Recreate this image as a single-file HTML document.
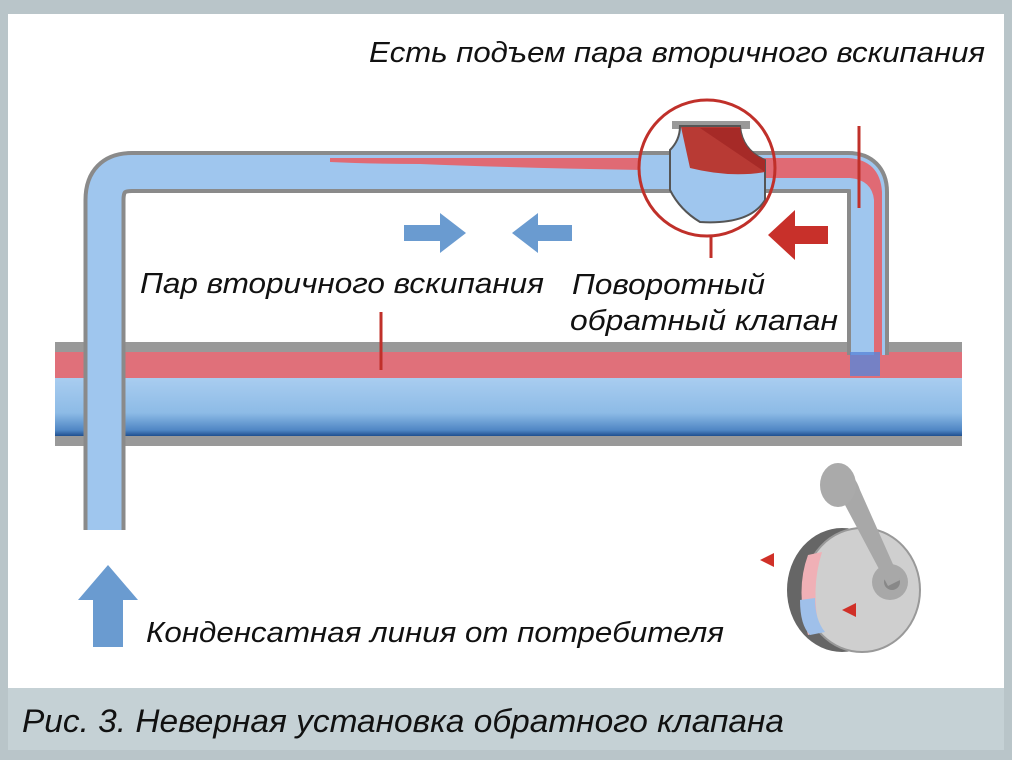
<!DOCTYPE html>
<html><head><meta charset="utf-8"><style>
html,body{margin:0;padding:0;background:#fff}
svg{display:block}
text{font-family:"Liberation Sans",sans-serif;font-style:italic;fill:#111}
</style></head><body>
<svg width="1012" height="760" viewBox="0 0 1012 760" xmlns="http://www.w3.org/2000/svg">
<defs>
<linearGradient id="mp" x1="0" y1="0" x2="0" y2="1">
<stop offset="0" stop-color="#a9cdf0"/><stop offset="0.6" stop-color="#8dbbe6"/><stop offset="0.9" stop-color="#4f86c4"/><stop offset="1" stop-color="#1f4f8f"/>
</linearGradient>
<linearGradient id="vp" x1="0" y1="0" x2="1" y2="0">
<stop offset="0" stop-color="#5f95d0"/><stop offset="0.4" stop-color="#a9cdf0"/><stop offset="1" stop-color="#80b1e2"/>
</linearGradient>
</defs>
<rect x="0" y="0" width="1012" height="760" fill="#b9c5c9"/>
<rect x="8" y="14" width="996" height="674" fill="#fff"/>
<rect x="8" y="688" width="996" height="62" fill="#c5d1d5"/>

<!-- main pipe -->
<rect x="55" y="342" width="907" height="104" fill="#999"/>
<rect x="55" y="352" width="907" height="26" fill="#e0707a"/>
<rect x="55" y="378" width="907" height="58" fill="url(#mp)"/>

<!-- upper loop pipe -->
<path d="M104.5 530 V200 Q104.5 172 132 172 H848 Q868 172 868 192 V355" fill="none" stroke="#8a8a8a" stroke-width="42"/>
<path d="M104.5 530 V200 Q104.5 172 132 172 H848 Q868 172 868 192 V355" fill="none" stroke="#9fc6ee" stroke-width="34"/>
<path d="M104.5 530 V200" fill="none" stroke="url(#vp)" stroke-width="34"/>
<!-- red steam in top pipe -->
<path d="M330 158 H640 V170 Q520 168 420 164 Q370 164 330 162 Z" fill="#e06a74"/>
<path d="M760 158 H848 Q880 160 882 192 V355 H874 V200 Q872 180 850 178 H760 Z" fill="#e06a74"/>
<rect x="850" y="352" width="30" height="24" fill="#5a86d8" opacity="0.8"/>

<!-- valve -->
<rect x="672" y="121" width="78" height="8" fill="#999"/>
<path d="M680 126 H740 Q742 150 765 160 V200 Q750 225 700 222 Q680 210 670 190 V150 Q680 140 680 126Z" fill="#9fc6ee" stroke="#555" stroke-width="2"/>
<path d="M681 127 H740 Q742 150 765 160 V172 Q730 178 690 168 Z" fill="#b83a34"/>
<path d="M700 128 L740 128 Q742 150 765 160 V172 Z" fill="#9a2020" opacity="0.6"/>
<circle cx="707" cy="168" r="68" fill="none" stroke="#c0302a" stroke-width="3"/>
<line x1="711" y1="236" x2="711" y2="258" stroke="#c0302a" stroke-width="3"/>
<line x1="859" y1="126" x2="859" y2="208" stroke="#c0302a" stroke-width="3"/>
<line x1="381" y1="312" x2="381" y2="370" stroke="#c0302a" stroke-width="3"/>

<!-- arrows -->
<path d="M404 225 H440 V213 L466 233 L440 253 V241 H404Z" fill="#6a9bd0"/>
<path d="M572 225 H538 V213 L512 233 L538 253 V241 H572Z" fill="#6a9bd0"/>
<path d="M828 226 H795 V210 L768 235 L795 260 V244 H828Z" fill="#c8302a"/>
<path d="M93 647 V600 H78 L108 565 L138 600 H123 V647Z" fill="#6a9bd0"/>

<!-- small valve illustration -->
<ellipse cx="842" cy="590" rx="55" ry="62" fill="#666"/>
<ellipse cx="862" cy="590" rx="58" ry="62" fill="#cfcfcf" stroke="#999" stroke-width="2"/>
<path d="M808 555 Q795 590 808 635 L820 632 Q810 590 822 552Z" fill="#f0b0b6"/>
<path d="M800 600 Q800 625 810 635 L825 632 Q815 620 815 598Z" fill="#9fc0ea"/>
<circle cx="890" cy="582" r="18" fill="#a8a8a8"/><circle cx="892" cy="582" r="8" fill="#888"/>
<path d="M830 490 Q850 460 860 490 L900 580 L888 586 L845 505Z" fill="#a8a8a8"/>
<ellipse cx="838" cy="485" rx="18" ry="22" fill="#aaa"/>
<path d="M760 560 L774 553 L774 567Z" fill="#d03028"/>
<path d="M842 610 L856 603 L856 617Z" fill="#d03028"/>

<!-- labels -->
<text x="369" y="62" font-size="29" textLength="616" lengthAdjust="spacingAndGlyphs">Есть подъем пара вторичного вскипания</text>
<text x="140" y="293" font-size="29" textLength="404" lengthAdjust="spacingAndGlyphs">Пар вторичного вскипания</text>
<text x="572" y="294" font-size="29" textLength="193" lengthAdjust="spacingAndGlyphs">Поворотный</text>
<text x="570" y="330" font-size="29" textLength="268" lengthAdjust="spacingAndGlyphs">обратный клапан</text>
<text x="146" y="642" font-size="29" textLength="578" lengthAdjust="spacingAndGlyphs">Конденсатная линия от потребителя</text>
<text x="22" y="732" font-size="32" textLength="762" lengthAdjust="spacingAndGlyphs">Рис. 3. Неверная установка обратного клапана</text>
</svg>
</body></html>
